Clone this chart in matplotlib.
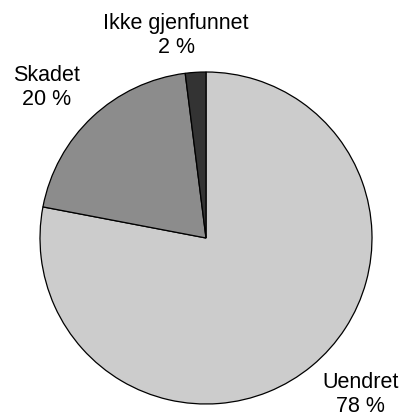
import matplotlib.pyplot as plt

# data
labels = ['Uendret', 'Skadet', 'Ikke gjenfunnet']
shares = [78, 20, 2]
colors = ['#cccccc', '#8c8c8c', '#333333']

# label placement relative to pie (x, y in radius units)
label_pos = [(0.93, -0.945), (-0.96, 0.905), (-0.18, 1.22)]

plt.rcParams['font.family'] = ['Liberation Sans', 'DejaVu Sans']

fig = plt.figure(figsize=(4.04, 4.18), dpi=100)
ax = fig.add_axes([40 / 404, 14 / 418, 332 / 404, 332 / 418])

wedges, _ = ax.pie(shares, colors=colors, startangle=90, counterclock=False,
                   wedgeprops=dict(edgecolor='black', linewidth=0.9))

for lab, val, (x, y) in zip(labels, shares, label_pos):
    ax.text(x, y, f'{lab}\n{val} %', ha='center', va='center',
            fontsize=15.5, linespacing=1.2, clip_on=False)

ax.set_xlim(-1, 1)
ax.set_ylim(-1, 1)
ax.set_aspect('equal')
ax.axis('off')

fig.savefig('out.png', dpi=100)
